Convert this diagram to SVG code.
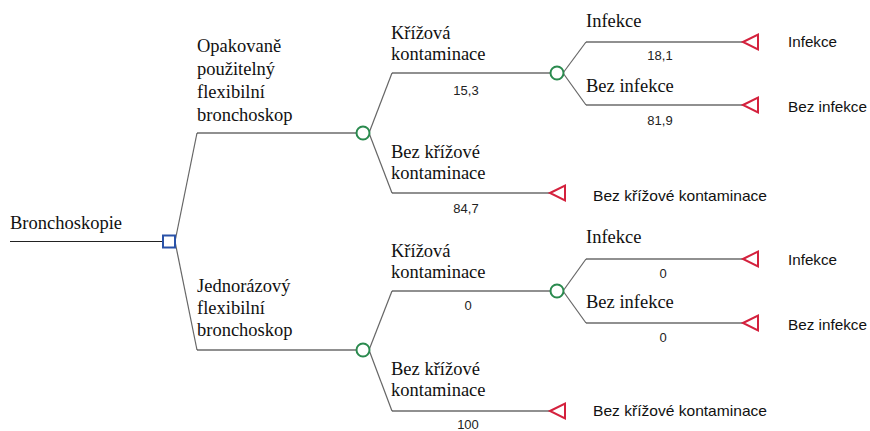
<svg xmlns="http://www.w3.org/2000/svg" width="870" height="431" viewBox="0 0 870 431">
<style>
.ln{fill:none;stroke:#222;stroke-width:1.2}
.dg{fill:none;stroke:#666;stroke-width:1.2}
.dec{fill:#fff;stroke:#2a52a8;stroke-width:2}
.ch{fill:#fff;stroke:#2a8a4e;stroke-width:2}
.term{fill:#fff;stroke:#d4213d;stroke-width:2}
.lb{font-family:"Liberation Serif","Times New Roman",serif;font-size:18.5px;fill:#111}
.pr{font-family:"Liberation Sans",Arial,sans-serif;font-size:13px;fill:#222;text-anchor:middle}
.out{font-family:"Liberation Sans",Arial,sans-serif;font-size:14.5px;fill:#111}
</style>
<defs>
<polygon id="tri" class="term" points="0,0 15,-7.5 15,7.5"/>
</defs>
<rect width="870" height="431" fill="#fff"/>
<g id="connectors">
<line class="ln" x1="10" y1="241.5" x2="163" y2="241.5"/>
<polyline class="dg" points="175,241.5 197,133"/>
<line class="ln" x1="197" y1="133" x2="356" y2="133"/>
<polyline class="dg" points="175,241.5 197,350"/>
<line class="ln" x1="197" y1="350" x2="356" y2="350"/>
<polyline class="dg" points="369,133 392,73"/>
<line class="ln" x1="392" y1="73" x2="550" y2="73"/>
<polyline class="dg" points="369,133 392,193"/>
<line class="ln" x1="392" y1="193" x2="550" y2="193"/>
<polyline class="dg" points="563,73 586,42"/>
<line class="ln" x1="586" y1="42" x2="743" y2="42"/>
<polyline class="dg" points="563,73 586,105"/>
<line class="ln" x1="586" y1="105" x2="743" y2="105"/>
<polyline class="dg" points="369,350 392,291"/>
<line class="ln" x1="392" y1="291" x2="550" y2="291"/>
<polyline class="dg" points="369,350 392,411"/>
<line class="ln" x1="392" y1="411" x2="550" y2="411"/>
<polyline class="dg" points="563,291 586,259"/>
<line class="ln" x1="586" y1="259" x2="743" y2="259"/>
<polyline class="dg" points="563,291 586,323"/>
<line class="ln" x1="586" y1="323" x2="743" y2="323"/>
</g>
<g id="root">
<rect class="dec" x="163" y="235.5" width="12" height="12"/>
<text class="lb" x="10" y="229">Bronchoskopie</text>
</g>
<g id="opt-reusable">
<text class="lb" x="197" y="52">Opakovaně</text>
<text class="lb" x="197" y="75">použitelný</text>
<text class="lb" x="197" y="98">flexibilní</text>
<text class="lb" x="197" y="121">bronchoskop</text>
</g>
<g id="opt-single">
<text class="lb" x="197" y="292">Jednorázový</text>
<text class="lb" x="197" y="314">flexibilní</text>
<text class="lb" x="197" y="336">bronchoskop</text>
</g>
<g id="chance1">
<circle class="ch" cx="363" cy="133" r="6.5"/>
</g>
<g id="chance2">
<circle class="ch" cx="363" cy="350" r="6.5"/>
</g>
<g id="cross1">
<text class="lb" x="391" y="39">Křížová</text>
<text class="lb" x="391" y="60">kontaminace</text>
<text class="pr" x="466" y="95">15,3</text>
<circle class="ch" cx="557" cy="73" r="6.5"/>
</g>
<g id="nocross1">
<text class="lb" x="391" y="158">Bez křížové</text>
<text class="lb" x="391" y="179">kontaminace</text>
<text class="pr" x="466" y="213">84,7</text>
<use href="#tri" x="550" y="193"/>
<text class="out" x="593" y="201" textLength="174" lengthAdjust="spacingAndGlyphs">Bez křížové kontaminace</text>
</g>
<g id="inf1">
<text class="lb" x="586" y="27">Infekce</text>
<text class="pr" x="660" y="60">18,1</text>
<use href="#tri" x="743" y="42"/>
<text class="out" x="788" y="47" textLength="49" lengthAdjust="spacingAndGlyphs">Infekce</text>
</g>
<g id="noinf1">
<text class="lb" x="586" y="92">Bez infekce</text>
<text class="pr" x="660" y="125">81,9</text>
<use href="#tri" x="743" y="105"/>
<text class="out" x="788" y="112" textLength="79" lengthAdjust="spacingAndGlyphs">Bez infekce</text>
</g>
<g id="cross2">
<text class="lb" x="391" y="257">Křížová</text>
<text class="lb" x="391" y="278">kontaminace</text>
<text class="pr" x="468" y="310">0</text>
<circle class="ch" cx="557" cy="291" r="6.5"/>
</g>
<g id="nocross2">
<text class="lb" x="391" y="375">Bez křížové</text>
<text class="lb" x="391" y="396">kontaminace</text>
<text class="pr" x="468" y="429">100</text>
<use href="#tri" x="550" y="411"/>
<text class="out" x="593" y="416" textLength="174" lengthAdjust="spacingAndGlyphs">Bez křížové kontaminace</text>
</g>
<g id="inf2">
<text class="lb" x="586" y="243">Infekce</text>
<text class="pr" x="663" y="278">0</text>
<use href="#tri" x="743" y="259"/>
<text class="out" x="788" y="265" textLength="49" lengthAdjust="spacingAndGlyphs">Infekce</text>
</g>
<g id="noinf2">
<text class="lb" x="586" y="308">Bez infekce</text>
<text class="pr" x="663" y="342">0</text>
<use href="#tri" x="743" y="323"/>
<text class="out" x="788" y="330" textLength="79" lengthAdjust="spacingAndGlyphs">Bez infekce</text>
</g>
</svg>
